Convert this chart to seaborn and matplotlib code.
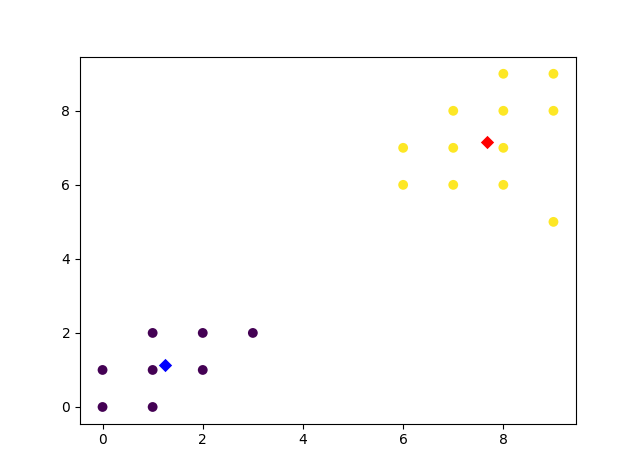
import matplotlib
matplotlib.use("Agg")
import matplotlib.pyplot as plt
import seaborn as sns
import pandas as pd

# data points
xs = [0, 0, 1, 1, 1, 2, 2, 3, 6, 6, 7, 7, 7, 8, 8, 8, 8, 9, 9, 9]
ys = [0, 1, 0, 1, 2, 1, 2, 2, 6, 7, 6, 7, 8, 6, 7, 8, 9, 5, 8, 9]
labels = [0, 0, 0, 0, 0, 0, 0, 0, 1, 1, 1, 1, 1, 1, 1, 1, 1, 1, 1, 1]

# centroids
cx = [1.25, 7.6667]
cy = [1.125, 7.1667]
ccolors = ["blue", "red"]

df = pd.DataFrame({"x": xs, "y": ys, "label": labels})
cmap = plt.get_cmap("viridis")

fig, ax = plt.subplots(figsize=(6.4, 4.76), dpi=100)
sns.scatterplot(data=df, x="x", y="y", hue="label",
                palette={0: cmap(0.0), 1: cmap(1.0)},
                s=50, linewidth=0, legend=False, ax=ax)
for x, y, c in zip(cx, cy, ccolors):
    sns.scatterplot(x=[x], y=[y], color=c, marker="D", s=46, linewidth=0,
                    legend=False, ax=ax)
ax.set_xlabel("")
ax.set_ylabel("")
fig.savefig("out.png", dpi=100)
